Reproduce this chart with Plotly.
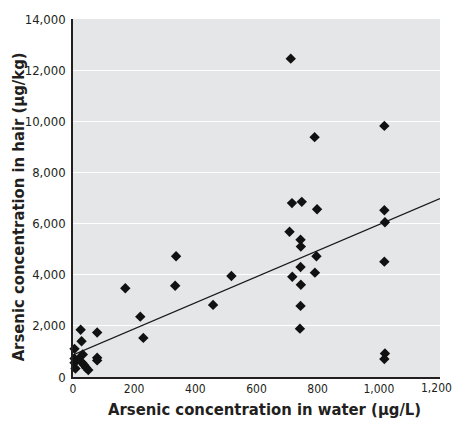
import plotly.graph_objects as go

# Arsenic in water (ug/L) vs arsenic in hair (ug/kg)
water = [5, 25, 28, 32, 5, 5, 8, 30, 37, 43, 50, 18, 79, 79, 79,
         171, 220, 230, 334, 337, 458, 518,
         712, 716, 748, 798, 708, 744, 745, 796, 744, 717, 791, 745, 744, 742, 790,
         1018, 1018, 1020, 1018, 1020, 1018]
hair = [1100, 1850, 1400, 880, 720, 560, 330, 560, 460, 360, 270, 700, 1740, 750, 650,
        3470, 2360, 1530, 3570, 4720, 2820, 3950,
        12450, 6800, 6850, 6560, 5680, 5370, 5100, 4720, 4300, 3920, 4080, 3610, 2780, 1890, 9380,
        9820, 6520, 6050, 4510, 920, 700]

fit_intercept = 860
fit_slope = 5.1
x_range = [0, 1200]
y_range = [0, 14000]
x_ticks = [0, 200, 400, 600, 800, 1000]
x_ticklabels = ["0", "200", "400", "600", "800", "1,000"]
x_last_tick = 1200
x_last_label = "1,200"
y_ticks = [0, 2000, 4000, 6000, 8000, 10000, 12000, 14000]
y_ticklabels = ["0", "2,000", "4,000", "6,000", "8,000", "10,000", "12,000", "14,000"]
x_title = "Arsenic concentration in water (μg/L)"
y_title = "Arsenic concentration in hair (μg/kg)"

fit_x = x_range
fit_y = [fit_intercept + fit_slope * v for v in fit_x]

fig = go.Figure()
fig.add_trace(go.Scatter(x=fit_x, y=fit_y, mode="lines",
                         line=dict(color="#1a1a1a", width=1.3), showlegend=False))
fig.add_trace(go.Scatter(x=water, y=hair, mode="markers",
                         marker=dict(symbol="diamond", size=8, color="#111111"),
                         showlegend=False, cliponaxis=False))

font = "DejaVu Sans Condensed, Liberation Sans Narrow, Roboto, sans-serif"
ink = "#231f20"
fig.update_layout(
    width=452, height=424,
    margin=dict(l=73, r=12, t=14, b=47),
    paper_bgcolor="white",
    plot_bgcolor="#e5e6e8",
    font=dict(family=font, color=ink),
    xaxis=dict(range=x_range, tickvals=x_ticks, ticktext=x_ticklabels,
               showgrid=False, zeroline=False, showline=True, linecolor=ink,
               linewidth=1.5, ticks="", tickfont=dict(size=12, family=font)),
    yaxis=dict(range=y_range, tickvals=y_ticks, ticktext=y_ticklabels,
               showgrid=True, gridcolor="white", gridwidth=1.2, zeroline=False,
               showline=True, linecolor=ink, linewidth=1.5, ticks="",
               ticklabelstandoff=3,
               tickfont=dict(size=13, family=font)),
)
fig.add_annotation(x=x_last_tick, y=0, xref="x", yref="paper", text=x_last_label,
                   showarrow=False, yanchor="top", yshift=-2, xshift=-4,
                   font=dict(size=12, family=font, color=ink))
fig.add_annotation(x=264, y=410, xref="paper", yref="paper", text="<b>" + x_title + "</b>",
                   showarrow=False, xanchor="center", yanchor="middle",
                   font=dict(size=16.5, family=font, color=ink))
fig.update_annotations(selector=dict(text="<b>" + x_title + "</b>"),
                       x=(264 - 73) / (452 - 73 - 12), y=-(410 - 377) / (377 - 14))
fig.add_annotation(x=-(73 - 18) / (452 - 73 - 12), y=(377 - 205) / (377 - 14),
                   xref="paper", yref="paper", text="<b>" + y_title + "</b>",
                   showarrow=False, textangle=-90, xanchor="center", yanchor="middle",
                   font=dict(size=16.5, family=font, color=ink))

fig.write_html("out.html")
